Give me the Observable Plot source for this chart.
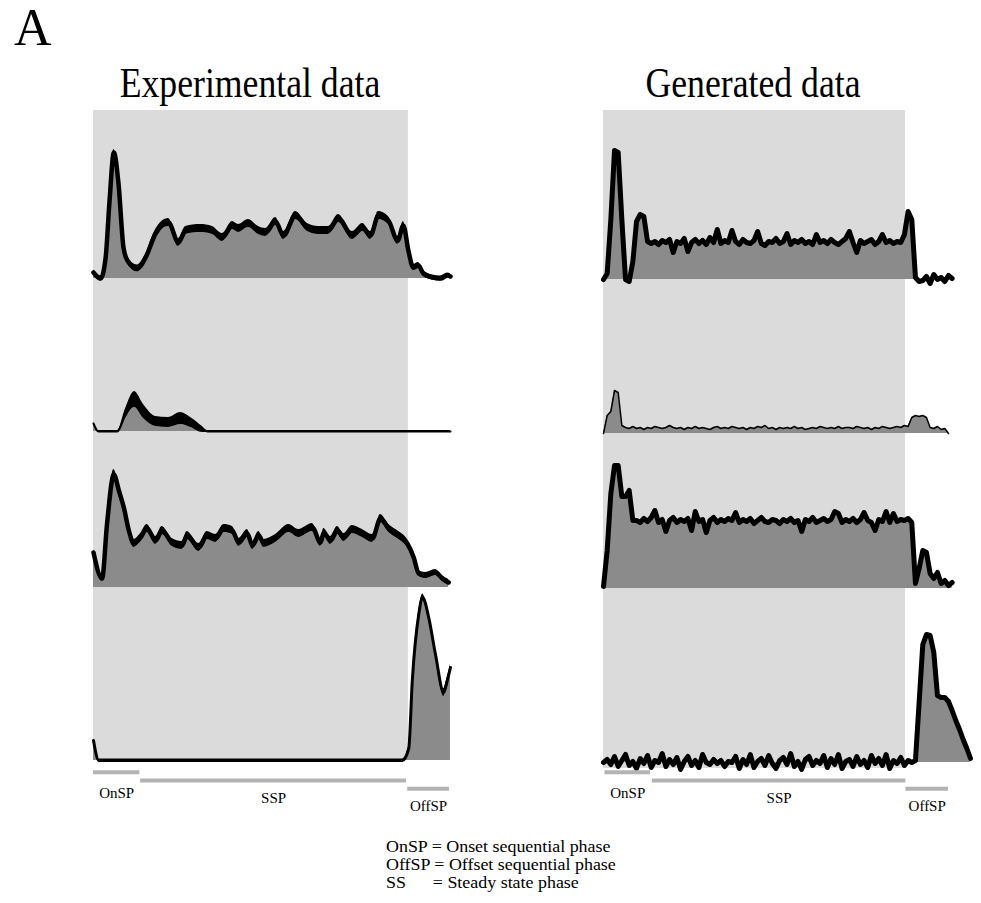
<!DOCTYPE html>
<html>
<head>
<meta charset="utf-8">
<script src="https://cdn.jsdelivr.net/npm/d3@7"></script>
<script src="https://cdn.jsdelivr.net/npm/@observablehq/plot@0.6"></script>
<style>
  body { margin: 0; background: #fff; }
  #page { position: relative; width: 981px; height: 903px; overflow: hidden;
          font-family: "Liberation Serif", "Times New Roman", serif; color: #000; }
  .abs { position: absolute; white-space: pre; }
  .chart { position: absolute; top: 100px; }
</style>
</head>
<body>
<div id="page">
  <div class="abs" style="left:14px;top:2px;font-size:52px;line-height:1;">A</div>
  <div class="abs" style="left:249.5px;top:60.7px;font-size:43px;line-height:1;transform:translateX(-50%) scaleX(0.83);">Experimental data</div>
  <div class="abs" style="left:753px;top:60.7px;font-size:43px;line-height:1;transform:translateX(-50%) scaleX(0.83);">Generated data</div>
  <div id="left" class="chart" style="left:0px;"></div>
  <div id="right" class="chart" style="left:490px;"></div>
  <div class="abs" style="left:385.7px;top:838px;font-size:16px;line-height:18px;transform:scaleX(1.12);transform-origin:0 0;">OnSP = Onset sequential phase
OffSP = Offset sequential phase
SS      = Steady state phase</div>
</div>
<script>
// ---------- Experimental data (time in % of trial, mean rate and half-band) ----------
const expT1 = [0, 2.0, 3.4, 4.5, 5.7, 7.0, 8.4, 9.5, 12.3, 14.6, 17.4, 21.0, 23.8, 25.8, 30.0, 33.3, 36.1, 38.9, 40.6, 43.4, 46.2, 48.2, 51.0, 53.2, 56.6, 59.9, 63.0, 65.8, 68.6, 72.5, 75.4, 77.6, 79.8, 82.6, 85.2, 86.8, 88.2, 89.6, 91.0, 92.4, 95.0, 97.2, 99.2, 100];
const expM1 = [6, 0, 21, 78, 126, 95, 31, 18, 10, 21, 45, 56, 36, 48, 50, 48, 41, 53, 50, 55, 48, 46, 57, 43, 63, 51, 48, 48, 60, 43, 51, 43, 63, 58, 38, 53, 28, 11, 13, 5, 1, 0, 3, 2];
const expE1 = [2.5, 2.5, 3, 3, 3, 3, 3, 3.5, 3.5, 3.5, 4, 4, 4, 4, 4, 4, 4, 4, 4, 4, 4, 4, 4, 4, 4, 4, 4, 4, 4, 4, 4, 4, 4, 4, 4, 4, 3.5, 3, 3, 3, 2.5, 2.5, 2.5, 2.5];

const expT2 = [0, 1.4, 6.7, 9.0, 11.5, 14.0, 17.4, 21.0, 24.4, 27.2, 30.5, 31.9, 100];
const expM2 = [8, 0, 0, 18, 32, 20, 10, 9, 13, 9, 2, 0, 0];
const expE2 = [1, 1, 1, 5, 8, 7, 5, 5, 6, 5, 3, 1, 1];

const expT3 = [0, 2.4, 3.8, 5.7, 7.1, 8.5, 9.9, 11.3, 13.2, 15.0, 17.4, 19.2, 22.0, 24.8, 26.2, 29.5, 31.8, 34.2, 36.5, 38.9, 40.7, 43.1, 44.5, 46.3, 47.7, 51.0, 54.7, 57.5, 61.3, 63.6, 64.5, 66.4, 68.3, 70.1, 72.5, 75.3, 78.1, 80.4, 82.7, 85.5, 87.9, 89.7, 91.1, 93.0, 95.8, 97.7, 99.5];
const expM3 = [35, 9, 64, 113, 97, 80, 57, 44, 50, 59, 47, 57, 45, 42, 52, 40, 52, 49, 59, 57, 45, 54, 42, 52, 44, 49, 59, 54, 60, 45, 55, 47, 57, 50, 58, 54, 49, 69, 59, 52, 44, 30, 14, 12, 15, 9, 5];
const expE3 = [3, 3, 4, 5, 5, 5, 4, 4, 4, 4, 4, 4, 4, 4, 4, 4, 4, 4, 4, 4, 4, 4, 4, 4, 4, 4, 4, 4, 4, 4, 4, 4, 4, 4, 4, 4, 4, 4, 4, 4, 4, 3.5, 3, 3, 3, 3, 3];

const expT4 = [0, 1.5, 86.5, 88.3, 89.3, 91.1, 92.2, 93.9, 95.8, 98.1, 99.1, 100];
const expM4 = [20, 0, 0, 12, 80, 146, 163, 143, 106, 68, 80, 93];
const expE4 = [1.5, 1.5, 1.5, 2, 2.5, 3, 3.5, 3.5, 3, 4, 3.5, 3];

// ---------- Generated data (one sample per time step) ----------
const gen1 = [0, 6, 60, 129, 127, 60, 0, -2, 18, 58, 65, 63, 38,
  36, 38, 35, 39, 37, 40, 27, 38, 36, 41, 28, 37, 40, 36, 39, 35, 42, 37, 50, 36,
  39, 37, 49, 38, 35, 40, 37, 36, 39, 48, 36, 34, 38, 37, 41, 36, 38, 46, 35, 39,
  37, 40, 36, 38, 35, 45, 37, 39, 36, 40, 37, 35, 38, 41, 48, 37, 27, 39, 36, 38,
  40, 35, 38, 45, 37, 39, 36, 38, 37,
  45, 68, 60, 2, -2, -1, 3, -4, 5, 0, 2, -2, 4, 1];
const gen2 = [0, 18, 22, 43, 41, 8,
  6, 5, 7, 5, 6, 4, 6, 5, 7, 6, 5, 6, 8, 6, 5, 6, 4, 6, 5, 7,
  5, 6, 5, 4, 6, 7, 5, 6, 5, 7, 6, 5, 6, 4, 6, 5, 7, 6, 8, 5,
  6, 4, 6, 5, 6, 5, 7, 5, 6, 4, 5, 6, 5, 7, 6, 5, 6, 5, 7, 5,
  6, 6, 5, 7, 6, 5, 6, 4, 6, 5, 7, 6, 5, 6, 7, 6, 8, 7,
  16, 18, 17, 18, 16, 6, 5, 7, 4, 5, 0];
const gen3 = [2, 38, 95, 123, 123, 92, 92, 98, 68,
  68, 66, 70, 67, 71, 78, 66, 69, 57, 68, 71, 66, 69, 67, 70, 58, 77, 67, 69, 56,
  68, 71, 66, 69, 67, 70, 68, 76, 66, 69, 67, 70, 65, 68, 71, 67, 66, 69, 68, 65,
  69, 67, 70, 66, 68, 57, 69, 67, 71, 66, 68, 70, 67, 69, 77, 75, 66, 69, 67, 70,
  66, 69, 76, 68, 66, 58, 69, 67, 77, 66, 75, 67, 69, 68, 70,
  66, 5, 20, 38, 36, 15, 10, 16, 5, 8, 3, 6];
const gen4 = [0, 3, -2, 6, -4, 2, 8, -3, 1, -6, 4, -1, 7, -5, 2, 0, 9, -4, 3, -2,
  5, -7, 1, 6, -3, 2, -5, 8, 0, -2, 3, -1, 2, -4, 1, 0, 6, -6, 3, -2,
  8, -5, 1, 4, -3, 7, -1, -6, 2, 5, -2, 9, -4, 1, -7, 3, 6, -3, 2, -1,
  7, -5, 4, -2, 8, -6, 1, 3, -4, 6, -2, 2, -5, 7, -1, 4, -3, 8, -6, 2,
  -1, 5, -3, 2, 0,
  2, 60, 118, 128, 127, 110, 67, 65, 65, 61, 52, 42, 33, 23, 14, 4];

// ---------- Phases ----------
const phaseNames = ["OnSP", "SSP", "OffSP"];
const expPhaseStart = [0, 13.2, 88.0];
const expPhaseEnd = [13.0, 87.7, 99.7];
const genPhaseStart = [0.4, 13.3, 82.4];
const genPhaseEnd = [12.8, 82.4, 94.0];
const expStimEnd = 88.2;   // end of the stimulus (shaded) period
const genStimEnd = 82.3;

// ---------- layout (vertical stacking of the four rows, in rate units) ----------
const expRowBase = [482, 329, 173, 0];
const genRowBase = [481, 327, 172, -2];
const barLevel = [-11.7, -20, -28.3];
const labelLevel = [-32.2, -37.2, -45.5];

const FILL = "#8b8b8b";
const SHADE = "#dbdbdb";
const BAR = "#b3b3b3";
const FONT = "Liberation Serif, Times New Roman, serif";

function expRows(t, m, e, base) {
  return t.map((ti, i) => ({
    t: ti, base,
    lo: base + Math.max(0, m[i] - e[i]),
    band0: base + m[i] - e[i],
    band1: base + m[i] + e[i],
    mid: base + m[i]
  }));
}
function genRows(v, base) {
  return v.map((vi, i) => ({ t: i, base, v: base + vi }));
}
function phaseTable(starts, ends) {
  return phaseNames.map((name, i) => ({
    name, start: starts[i], end: ends[i], mid: (starts[i] + ends[i]) / 2,
    level: barLevel[i], label: labelLevel[i]
  }));
}

// ----- Experimental panel -----
const expSets = [[expT1, expM1, expE1], [expT2, expM2, expE2], [expT3, expM3, expE3], [expT4, expM4, expE4]];
const expLineWidths = [4.5, 2, 4.5, 3];
const expMarks = [
  Plot.rect([{ x1: 0, x2: expStimEnd, y1: 0, y2: 650 }], { x1: "x1", x2: "x2", y1: "y1", y2: "y2", fill: SHADE })
];
expSets.forEach(([t, m, e], r) => {
  const rows = expRows(t, m, e, expRowBase[r]);
  expMarks.push(
    Plot.areaY(rows, { x: "t", y1: "base", y2: "lo", fill: FILL, curve: "monotone-x" }),
    Plot.areaY(rows, { x: "t", y1: "band0", y2: "band1", fill: "#000", curve: "monotone-x" }),
    Plot.line(rows, { x: "t", y: "mid", stroke: "#000", strokeWidth: expLineWidths[r], strokeLinejoin: "round", curve: "monotone-x" })
  );
});
const expPh = phaseTable(expPhaseStart, expPhaseEnd);
expMarks.push(
  Plot.ruleY(expPh, { x1: "start", x2: "end", y: "level", stroke: BAR, strokeWidth: 4 }),
  Plot.text(expPh, { x: "mid", y: "label", text: "name", fontSize: 15, fontFamily: FONT, fill: "#000" })
);

const left = Plot.plot({
  width: 490, height: 720,
  marginLeft: 93, marginRight: 40, marginTop: 0, marginBottom: 0,
  x: { domain: [0, 100], axis: null },
  y: { domain: [-60, 660], axis: null },
  style: { background: "transparent", overflow: "visible" },
  marks: expMarks
});
document.getElementById("left").appendChild(left);

// ----- Generated panel -----
const genSets = [gen1, gen2, gen3, gen4];
const genWidths = [5, 1.5, 5, 5];
const genMarks = [
  Plot.rect([{ x1: 0, x2: genStimEnd, y1: -8, y2: 650 }], { x1: "x1", x2: "x2", y1: "y1", y2: "y2", fill: SHADE })
];
genSets.forEach((v, r) => {
  const rows = genRows(v, genRowBase[r]);
  genMarks.push(
    Plot.areaY(rows, { x: "t", y1: "base", y2: "v", fill: FILL }),
    Plot.line(rows, { x: "t", y: "v", stroke: "#000", strokeWidth: genWidths[r], strokeLinejoin: "round" })
  );
});
const genPh = phaseTable(genPhaseStart, genPhaseEnd);
genMarks.push(
  Plot.ruleY(genPh, { x1: "start", x2: "end", y: "level", stroke: BAR, strokeWidth: 4 }),
  Plot.text(genPh, { x: "mid", y: "label", text: "name", fontSize: 15, fontFamily: FONT, fill: "#000" })
);

const right = Plot.plot({
  width: 491, height: 720,
  marginLeft: 113, marginRight: 11, marginTop: 0, marginBottom: 0,
  x: { domain: [0, 100], axis: null },
  y: { domain: [-60, 660], axis: null },
  style: { background: "transparent", overflow: "visible" },
  marks: genMarks
});
document.getElementById("right").appendChild(right);
</script>
</body>
</html>
